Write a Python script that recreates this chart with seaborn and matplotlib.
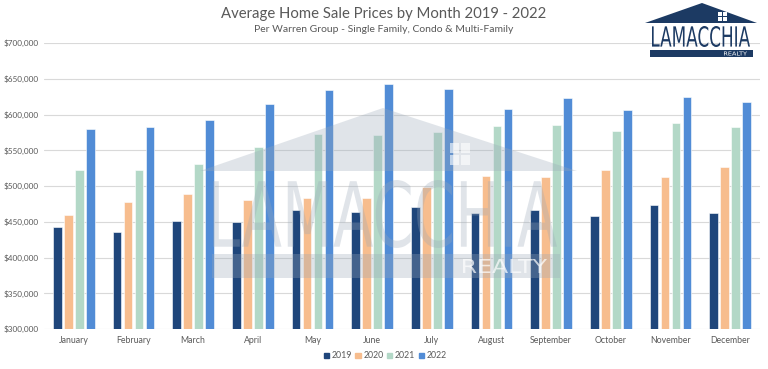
import numpy as np
import pandas as pd
import seaborn as sns
import matplotlib.pyplot as plt
from matplotlib.patches import Polygon, Rectangle, PathPatch
from matplotlib.textpath import TextPath
from matplotlib.font_manager import FontProperties
from matplotlib.transforms import Affine2D
from matplotlib.ticker import FuncFormatter

months = ["January", "February", "March", "April", "May", "June",
          "July", "August", "September", "October", "November", "December"]
years = ["2019", "2020", "2021", "2022"]
prices_2019 = [443000, 436000, 451000, 449000, 467000, 463000,
               471000, 462000, 467000, 458000, 474000, 462000]
prices_2020 = [459000, 478000, 489000, 480000, 483000, 483000,
               499000, 514000, 513000, 522000, 513000, 526000]
prices_2021 = [522000, 523000, 531000, 554000, 573000, 572000,
               576000, 584000, 586000, 577000, 588000, 583000]
prices_2022 = [580000, 583000, 592000, 614000, 634000, 643000,
               636000, 608000, 623000, 606000, 624000, 618000]
colors = ["#1F467B", "#F7BD8E", "#B3D8C7", "#518CD6"]

rows = []
for yr, vals in zip(years, [prices_2019, prices_2020, prices_2021, prices_2022]):
    for m, v in zip(months, vals):
        rows.append({"month": m, "year": yr, "price": v})
df = pd.DataFrame(rows)

sns.set_theme(style="white")
plt.rcParams['font.family'] = ['Lato', 'DejaVu Sans']
grey = "#595959"

fig = plt.figure(figsize=(7.68, 3.69), dpi=100)
ax = fig.add_axes([44 / 768, 1 - 329 / 369, 716 / 768, 286 / 369])

sns.barplot(data=df, x="month", y="price", hue="year", palette=colors,
            saturation=1, width=0.74, gap=0.22, edgecolor="white", linewidth=0.4,
            ax=ax, legend=False, zorder=3)

ax.set_ylim(300000, 700000)
ax.set_yticks(np.arange(300000, 700001, 50000))
ax.yaxis.set_major_formatter(FuncFormatter(lambda v, p: "${:,.0f}".format(v)))
ax.grid(axis="y", color="#D9D9D9", linewidth=0.8, zorder=0)
ax.set_axisbelow(True)
for s in ax.spines.values():
    s.set_visible(False)
ax.tick_params(axis="x", length=0, labelsize=6.3, labelcolor=grey, pad=5)
ax.tick_params(axis="y", length=0, labelsize=5.9, labelcolor=grey, pad=4)
ax.set_xlabel("")
ax.set_ylabel("")

fig.text(384 / 768, 1 - 14 / 369, "Average Home Sale Prices by Month 2019 - 2022",
         ha="center", va="center", fontsize=10.7, color=grey)
fig.text(384 / 768, 1 - 29 / 369, "Per Warren Group - Single Family, Condo & Multi-Family",
         ha="center", va="center", fontsize=7.5, color=grey)

handles = [Rectangle((0, 0), 1, 1, color=c) for c in colors]
fig.legend(handles, years, loc="center", bbox_to_anchor=(385 / 768, 1 - 356 / 369),
           ncol=4, frameon=False, fontsize=6.3, handlelength=0.6, handleheight=0.6,
           handletextpad=0.3, columnspacing=0.4, labelcolor=grey)

# overlay in pixel coordinates for watermark and logo
ov = fig.add_axes([0, 0, 1, 1], zorder=5)
ov.set_xlim(0, 768)
ov.set_ylim(369, 0)
ov.axis("off")
ov.patch.set_alpha(0)


def boxed_text(s, x0, x1, y0, y1, **kw):
    # text outline stretched into a pixel box (y grows downward)
    tp = TextPath((0, 0), s, size=10, prop=FontProperties(family="Liberation Sans Narrow"))
    ext = tp.get_extents()
    sx = (x1 - x0) / ext.width
    sy = (y1 - y0) / ext.height
    tr = Affine2D().translate(-ext.x0, -ext.y0).scale(sx, -sy).translate(x0, y1)
    ov.add_patch(PathPatch(tr.transform_path(tp), **kw))


wm = "#9AA8B8"
ov.add_patch(Polygon([[200, 171], [383, 108], [577, 171]], closed=True,
                     facecolor=wm, alpha=0.3, edgecolor="none"))
for dx in (0, 11):
    for dy in (0, 12):
        ov.add_patch(Rectangle((450 + dx, 143 + dy), 9, 10, facecolor="white",
                               alpha=0.6, edgecolor="none"))
boxed_text("LAMACCHIA", 213, 557, 180, 248, facecolor=wm, alpha=0.3, edgecolor="none")
ov.add_patch(Rectangle((212, 254), 348, 24, facecolor=wm, alpha=0.3, edgecolor="none"))
boxed_text("REALTY", 463, 547, 259, 273, facecolor="white", alpha=0.7, edgecolor="none")

navy = "#1C3A63"
ov.add_patch(Polygon([[645, 23], [702, 3], [757, 23]], closed=True,
                     facecolor=navy, edgecolor="none"))
for dx in (0, 5):
    for dy in (0, 5):
        ov.add_patch(Rectangle((718 + dx, 12 + dy), 4, 4, facecolor="white", edgecolor="none"))
boxed_text("LAMACCHIA", 652, 750, 26, 47, facecolor=navy, edgecolor="none")
ov.add_patch(Rectangle((650, 50), 103, 7, facecolor=navy, edgecolor="none"))
boxed_text("REALTY", 724, 747, 51.5, 55.5, facecolor="white", edgecolor="none")

fig.savefig("out.png", dpi=100)
